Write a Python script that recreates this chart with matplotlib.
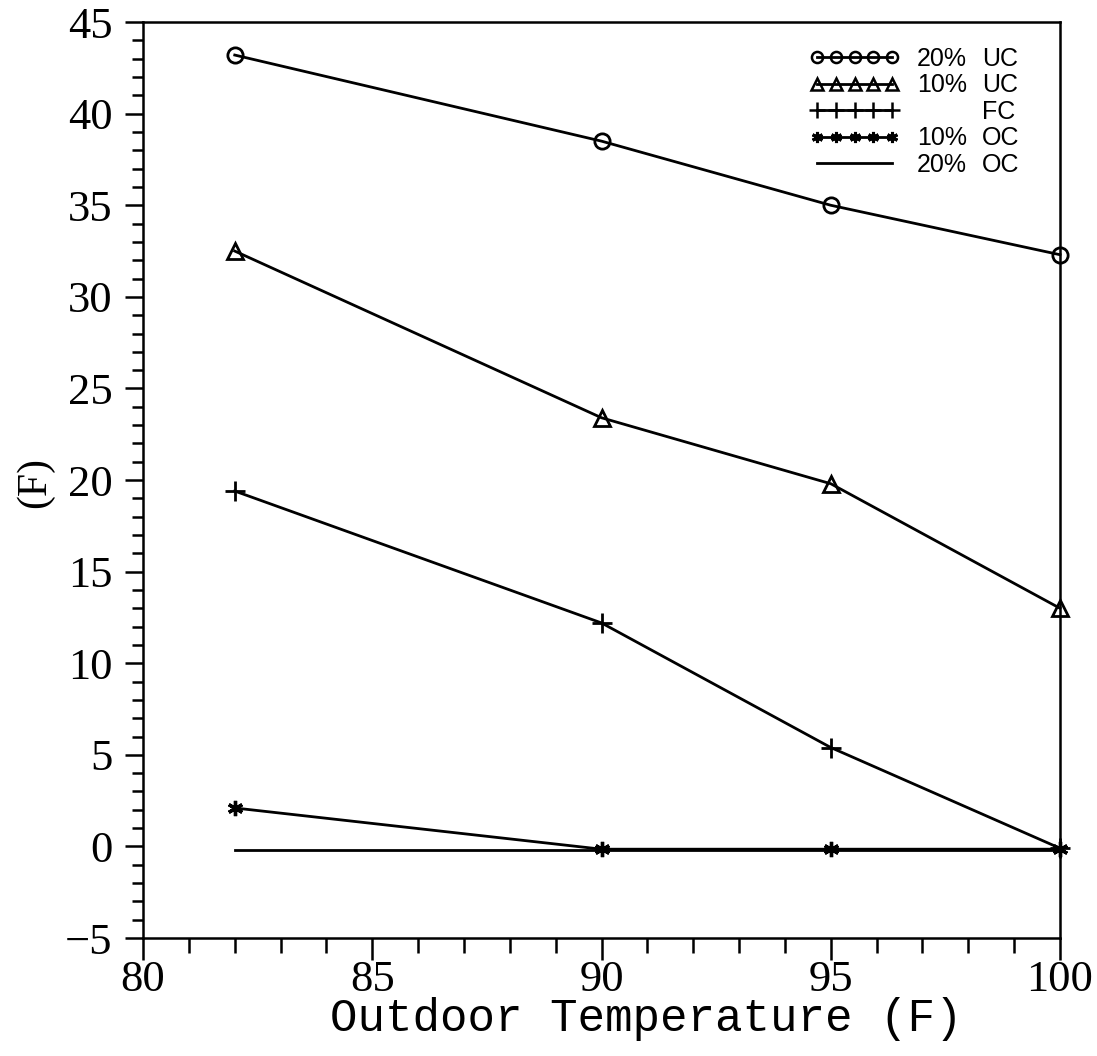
import matplotlib.pyplot as plt
from matplotlib.ticker import MultipleLocator
from matplotlib.lines import Line2D

# outdoor temperature (F)
temps = [82, 90, 95, 100]

# temperature difference (F) per charge level
uc20 = [43.2, 38.5, 35.0, 32.3]
uc10 = [32.5, 23.4, 19.8, 13.0]
fc = [19.4, 12.2, 5.4, -0.1]
oc10 = [2.1, -0.15, -0.15, -0.15]
oc20 = [-0.2, -0.2, -0.2, -0.2]

pct = ["20%", "10%", "\u00a0", "10%", "20%"]
kind = ["UC", "UC", "FC", "OC", "OC"]

fig = plt.figure(figsize=(10.97, 10.56), dpi=100)
ax = fig.add_axes([0.1304, 0.1117, 0.8359, 0.8674])

lw = 2.0
ax.plot(temps, uc20, color="black", lw=lw, marker="o", ms=11, mfc="none", mew=2, clip_on=False)
ax.plot(temps, uc10, color="black", lw=lw, marker="^", ms=11, mfc="none", mew=2, clip_on=False)
ax.plot(temps, fc, color="black", lw=lw, marker="+", ms=15, mew=2, clip_on=False)
ax.plot(temps, oc10, color="black", lw=lw, marker=(6, 2, 0), ms=11, mew=2.4, clip_on=False)
ax.plot(temps, oc20, color="black", lw=lw, clip_on=False)

ax.set_xlim(80, 100)
ax.set_ylim(-5, 45)
ax.xaxis.set_major_locator(MultipleLocator(5))
ax.xaxis.set_minor_locator(MultipleLocator(1))
ax.yaxis.set_major_locator(MultipleLocator(5))
ax.yaxis.set_minor_locator(MultipleLocator(1))
ax.tick_params(which="both", direction="out", width=1.8, top=False, right=False)
ax.tick_params(axis="x", which="major", length=16, pad=0)
ax.tick_params(axis="x", which="minor", length=11)
ax.tick_params(axis="y", which="major", length=13, pad=9)
ax.tick_params(axis="y", which="minor", length=8)
ax.set_xticks(ax.get_xticks())
ax.set_xticklabels([f"{t:g}" for t in ax.get_xticks()], fontfamily="Liberation Serif", fontsize=32)
ax.set_yticks(ax.get_yticks())
ax.set_yticklabels(["\u22125" if t < 0 else f"{t:g}" for t in ax.get_yticks()],
                   fontfamily="Liberation Serif", fontsize=32)
ax.set_xlim(80, 100)
ax.set_ylim(-5, 45)
for sp in ax.spines.values():
    sp.set_linewidth(1.8)

ax.set_xlabel("Outdoor Temperature (F)", fontfamily="Liberation Mono", fontsize=33)
ax.xaxis.set_label_coords(0.549, -0.064)
ax.set_ylabel("(F)", fontfamily="Liberation Serif", fontsize=30)
ax.yaxis.set_label_coords(-0.097, 0.497)

# legend: five markers per handle, percentage and charge type in two columns
handles = [
    Line2D([], [], color="black", lw=lw, marker="o", ms=8, mfc="none", mew=1.8),
    Line2D([], [], color="black", lw=lw, marker="^", ms=8, mfc="none", mew=1.8),
    Line2D([], [], color="black", lw=lw, marker="+", ms=11, mew=1.8),
    Line2D([], [], color="black", lw=lw, marker=(6, 2, 0), ms=8, mew=2.2),
    Line2D([], [], color="black", lw=lw),
]
leg = ax.legend(handles, pct, loc="upper left", bbox_to_anchor=(0.727, 0.973),
                numpoints=5, frameon=False, handlelength=3.6, handletextpad=0.68,
                labelspacing=0.1, borderpad=0, borderaxespad=0,
                prop={"family": "Liberation Sans", "size": 18})
fig.canvas.draw()
for txt, k in zip(leg.get_texts(), kind):
    ax.annotate(k, xy=(0, 0.5), xycoords=txt, xytext=(47, 0), textcoords="offset points",
                va="center", ha="left", fontfamily="Liberation Sans", fontsize=18, zorder=10)

fig.savefig("out.png", dpi=100)
